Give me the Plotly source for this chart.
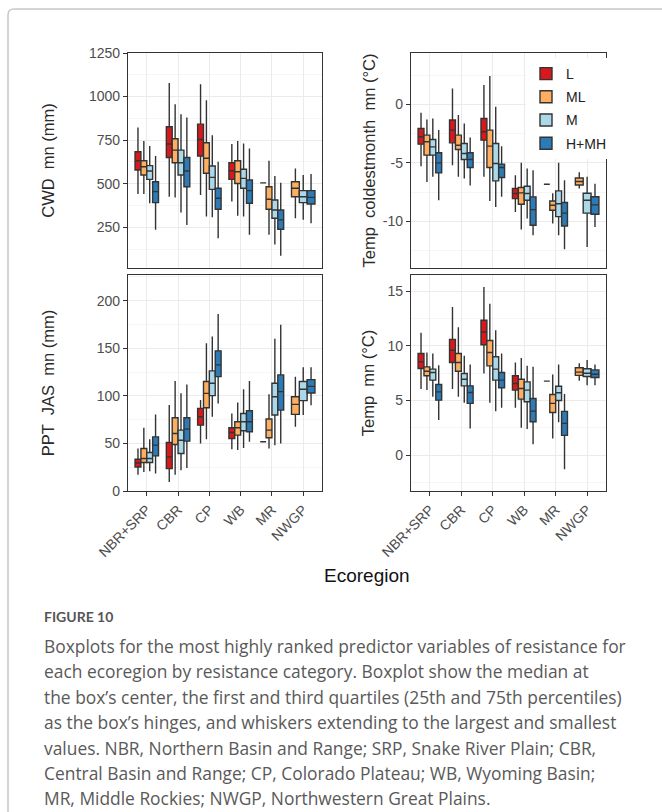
import plotly.graph_objects as go

ECOREGIONS = ["NBR+SRP", "CBR", "CP", "WB", "MR", "NWGP"]
GROUPS = ["L", "ML", "M", "H+MH"]
COLORS = ["#D7191C", "#FDAE61", "#ABD9E9", "#2C7BB6"]

# y tick labels for each panel
TICKS_CWD = [250, 500, 750, 1000, 1250]
TICKS_TCM = [-10, -5, 0]
TICKS_PPT = [0, 50, 100, 150, 200]
TICKS_TMN = [0, 5, 10, 15]

# each entry: [lower whisker, Q1, median, Q3, upper whisker]; None = category absent
CWD_L = [[442, 579, 632, 684, 823], [426, 651, 728, 827, 1078], [436, 659, 754, 842, 1071],
         [398, 525, 575, 621, 728], [505, 505, 505, 505, 505], None]
CWD_ML = [[442, 550, 598, 632, 745], [422, 621, 693, 758, 956], [312, 560, 646, 735, 979],
          [316, 502, 569, 632, 745], [207, 354, 411, 483, 632], [302, 426, 474, 512, 588]]
CWD_M = [[388, 525, 573, 604, 716], [335, 550, 621, 693, 899], [308, 468, 537, 602, 779],
         [312, 474, 531, 583, 731], [152, 302, 350, 407, 544], [293, 392, 426, 461, 550]]
CWD_HMH = [[236, 392, 455, 512, 659], [264, 483, 573, 651, 880], [188, 354, 417, 474, 626],
           [207, 388, 461, 522, 703], [87, 239, 293, 350, 506], [274, 384, 422, 461, 556]]

TCM_L = [[-5.29, -3.4, -2.77, -2.06, -0.71], [-5.2, -3.29, -2.2, -1.34, 1.37], [-6.2, -3.06, -2.34, -1.2, 1.66],
         [-9.2, -8.06, -7.63, -7.2, -6.06], [-6.83, -6.83, -6.83, -6.83, -6.83], None]
TCM_ML = [[-6.63, -4.34, -3.2, -2.63, -1.29], [-6.2, -3.86, -3.49, -2.63, -0.91], [-8.26, -5.4, -3.57, -2.2, 2.43],
          [-10.71, -8.54, -7.57, -7.11, -5.0], [-10.2, -9.06, -8.63, -8.26, -7.6], [-7.2, -6.9, -6.6, -6.3, -5.8]]
TCM_M = [[-6.2, -4.34, -3.63, -3.0, -1.2], [-6.34, -4.71, -4.2, -3.34, -1.63], [-8.77, -6.54, -5.06, -3.34, -0.2],
         [-9.77, -8.2, -7.63, -7.0, -5.49], [-11.2, -9.6, -8.5, -7.4, -5.0], [-12.2, -9.3, -8.2, -7.6, -6.2]]
TCM_HMH = [[-8.2, -5.86, -5.0, -4.14, -2.2], [-6.94, -5.4, -4.71, -4.14, -2.83], [-7.91, -6.26, -5.4, -5.11, -3.57],
           [-11.2, -10.34, -9.0, -7.91, -5.63], [-12.4, -10.4, -9.3, -8.4, -6.5], [-10.5, -9.4, -8.6, -7.9, -6.8]]

PPT_L = [[17.2, 25.3, 29.5, 33.4, 44.6], [9.5, 23.5, 35.9, 51, 90.3], [50, 69.2, 78, 86.8, 95.6],
         [44, 55.2, 61.5, 66.4, 81.5], [51.7, 51.7, 51.7, 51.7, 51.7], None]
PPT_ML = [[20, 29.9, 34.1, 44.6, 66.4], [17.2, 48.9, 60.5, 77, 115.6], [54.5, 87.5, 102.6, 115, 155.4],
          [43, 58.7, 66.4, 72.8, 93], [44.6, 55.9, 64, 75.6, 101.6], [67.5, 80.5, 91, 99, 120]]
PPT_M = [[20.7, 29.9, 34.1, 40.4, 54.5], [21.8, 39.4, 53.4, 64, 102.6], [78, 100.2, 113.2, 126.2, 162.4],
         [45.3, 63.3, 72.8, 81.5, 107], [48.2, 79.8, 99.1, 113.2, 160], [80, 95, 107, 115, 130]]
PPT_HMH = [[18.3, 36.9, 48.2, 56.9, 80.5], [24.3, 52.4, 65, 77, 112], [92, 120.2, 132.5, 147.3, 186],
           [51.7, 62.2, 72.8, 84.4, 115.6], [50, 85, 104.4, 122, 174.7], [90, 103, 110, 117, 130]]

TMN_L = [[6.04, 7.93, 8.54, 9.3, 11.2], [6.04, 8.48, 9.6, 10.6, 13.57], [7.47, 10.1, 11.28, 12.35, 15.4],
         [4.33, 5.95, 6.55, 7.26, 8.48], [6.77, 6.77, 6.77, 6.77, 6.77], None]
TMN_ML = [[5.95, 7.26, 7.68, 8.08, 9.4], [5.34, 7.68, 8.48, 9.3, 11.7], [4.8, 8.17, 9.39, 10.5, 13.87],
          [2.5, 5.12, 6.1, 6.95, 8.9], [1.52, 3.9, 4.73, 5.55, 7.38], [6.8, 7.3, 7.6, 8.0, 8.4]]
TMN_M = [[5.34, 6.86, 7.56, 7.87, 9.3], [4.8, 6.34, 6.95, 7.47, 9.1], [4.02, 6.86, 7.87, 9.0, 11.43],
         [2.38, 4.88, 5.95, 6.7, 8.17], [3.0, 5.0, 5.7, 6.3, 8.3], [6.4, 7.2, 7.5, 7.9, 8.7]]
TMN_HMH = [[3.2, 5.03, 5.79, 6.46, 8.23], [2.44, 4.73, 5.73, 6.34, 8.3], [4.33, 6.16, 6.86, 7.56, 9.3],
           [0.98, 3.05, 4.02, 5.18, 8.08], [-1.3, 1.8, 2.9, 4.0, 5.6], [6.4, 7.1, 7.4, 7.8, 8.3]]

PANELS = [
    dict(data=[CWD_L, CWD_ML, CWD_M, CWD_HMH], title="CWD  mn (mm)", rng=[17, 1250], ticks=TICKS_CWD,
         xdom=[128, 322], ydom=[53, 268], bottom=False, legend=False, standoff=30),
    dict(data=[TCM_L, TCM_ML, TCM_M, TCM_HMH], title="Temp  coldestmonth  mn (°C)", rng=[-14.0, 4.4], ticks=TICKS_TCM,
         xdom=[411, 606], ydom=[53, 268], bottom=False, legend=True, standoff=3),
    dict(data=[PPT_L, PPT_ML, PPT_M, PPT_HMH], title="PPT  JAS  mn (mm)", rng=[0, 227], ticks=TICKS_PPT,
         xdom=[128, 322], ydom=[275, 491], bottom=True, legend=False, standoff=37),
    dict(data=[TMN_L, TMN_ML, TMN_M, TMN_HMH], title="Temp  mn (°C)", rng=[-3.3, 16.5], ticks=TICKS_TMN,
         xdom=[411, 606], ydom=[275, 491], bottom=True, legend=False, standoff=8),
]

W, H = 662, 812
FONT = "Liberation Sans, Arial, sans-serif"
fig = go.Figure()

DODGE = 0.75
for pi, p in enumerate(PANELS):
    ax = "" if pi == 0 else str(pi + 1)
    for ei, eco in enumerate(ECOREGIONS):
        present = [gi for gi in range(4) if p["data"][gi][ei] is not None]
        n = len(present)
        slot = DODGE / n
        for k, gi in enumerate(present):
            lo, q1, med, q3, hi = p["data"][gi][ei]
            xpos = ei - DODGE / 2 + (k + 0.5) * slot
            fig.add_trace(go.Box(
                x=[xpos], q1=[q1], median=[med], q3=[q3], lowerfence=[lo], upperfence=[hi],
                width=slot, fillcolor=COLORS[gi], line=dict(color="#333333", width=1.4),
                whiskerwidth=0, name=GROUPS[gi], legendgroup=GROUPS[gi],
                showlegend=(p["legend"] and ei == 0), boxpoints=False,
                xaxis="x" + ax, yaxis="y" + ax, hoverinfo="skip",
            ))
    xd = [p["xdom"][0] / W, p["xdom"][1] / W]
    yd = [1 - p["ydom"][1] / H, 1 - p["ydom"][0] / H]
    step = p["ticks"][1] - p["ticks"][0]
    fig.layout["xaxis" + ax] = dict(
        domain=xd, anchor="y" + ax, range=[-0.6, 5.6], tickmode="array",
        tickvals=list(range(len(ECOREGIONS))), ticktext=ECOREGIONS,
        showticklabels=p["bottom"], ticks="outside" if p["bottom"] else "", ticklen=4,
        tickcolor="#333333", tickwidth=1.2, tickangle=-45,
        tickfont=dict(family=FONT, size=14, color="#4D4D4D"),
        showgrid=True, gridcolor="#EBEBEB", gridwidth=1.2, zeroline=False,
        showline=True, linecolor="#333333", linewidth=1.3, mirror=True, automargin=False,
    )
    fig.layout["yaxis" + ax] = dict(
        domain=yd, anchor="x" + ax, range=p["rng"], tickmode="array",
        tickvals=p["ticks"], ticktext=[str(v) for v in p["ticks"]],
        ticks="outside", ticklen=4, tickcolor="#333333", tickwidth=1.2,
        tickfont=dict(family=FONT, size=14, color="#4D4D4D"),
        showgrid=True, gridcolor="#EBEBEB", gridwidth=1.2, zeroline=False,
        minor=dict(tickmode="linear", tick0=0, dtick=step / 2, showgrid=True,
                   gridcolor="#F5F5F5", gridwidth=0.8, ticks=""),
        showline=True, linecolor="#333333", linewidth=1.3, mirror=True, automargin=False,
        title=dict(text=p["title"], font=dict(family=FONT, size=16.5, color="#2A2A2A"), standoff=p["standoff"]),
    )

fig.add_annotation(text="Ecoregion", x=367 / W, y=1 - 575 / H, xref="paper", yref="paper",
                   xanchor="center", yanchor="middle",
                   showarrow=False, font=dict(family=FONT, size=19, color="#111111"))

CAPTION = [
    "Boxplots for the most highly ranked predictor variables of resistance for",
    "each ecoregion by resistance category. Boxplot show the median at",
    "the box’s center, the first and third quartiles (25th and 75th percentiles)",
    "as the box’s hinges, and whiskers extending to the largest and smallest",
    "values. NBR, Northern Basin and Range; SRP, Snake River Plain; CBR,",
    "Central Basin and Range; CP, Colorado Plateau; WB, Wyoming Basin;",
    "MR, Middle Rockies; NWGP, Northwestern Great Plains.",
]
fig.add_annotation(text="<b>FIGURE 10</b>", x=42 / W, y=1 - 616 / H, xref="paper", yref="paper",
                   xanchor="left", yanchor="middle", showarrow=False,
                   font=dict(family="Lato, sans-serif", size=14, color="#555555"))
for i, line in enumerate(CAPTION):
    fig.add_annotation(text=line, x=42 / W, y=1 - (646 + i * 25.4) / H, xref="paper", yref="paper",
                       xanchor="left", yanchor="middle", showarrow=False,
                       font=dict(family="Open Sans, sans-serif", size=17.4, color="#595959"))

fig.add_shape(type="path", xref="paper", yref="paper",
              path=f"M {8/W},-0.05 L {8/W},{1-15/H} Q {8/W},{1-9/H} {14/W},{1-9/H} L 1.05,{1-9/H}",
              line=dict(color="#C8C8C8", width=1.5))

fig.update_layout(
    width=W, height=H, margin=dict(l=0, r=0, t=0, b=0, autoexpand=False),
    paper_bgcolor="white", plot_bgcolor="white", boxmode="overlay",
    legend=dict(x=526 / W, y=1 - 58 / H, xanchor="left", yanchor="top", bgcolor="white",
                font=dict(family=FONT, size=14, color="#222222"), tracegroupgap=2,
                traceorder="grouped", itemwidth=30),
)

fig.write_html("out.html")
